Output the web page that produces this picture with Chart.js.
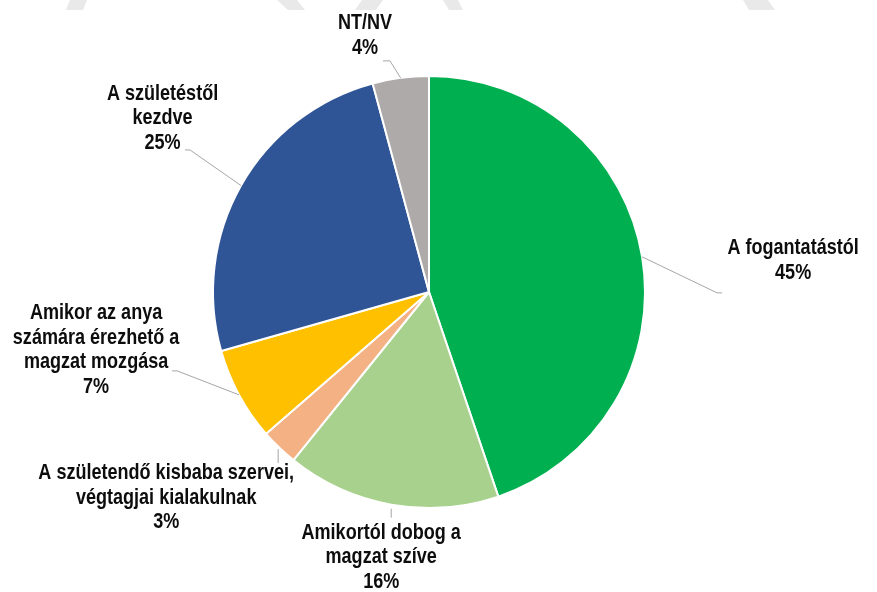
<!DOCTYPE html>
<html>
<head>
<meta charset="utf-8">
<script src="https://cdn.jsdelivr.net/npm/chart.js@4/dist/chart.umd.min.js"></script>
<style>
  html, body { margin: 0; padding: 0; background: #ffffff; }
  #wrap { width: 877px; height: 592px; position: relative; }
</style>
</head>
<body>
<div id="wrap"><canvas id="c" width="877" height="592"></canvas></div>
<script>
// ---- data ----
const categories = [
  ["A fogantatástól"],
  ["Amikortól dobog a", "magzat szíve"],
  ["A születendő kisbaba szervei,", "végtagjai kialakulnak"],
  ["Amikor az anya", "számára érezhető a", "magzat mozgása"],
  ["A születéstől", "kezdve"],
  ["NT/NV"]
];
const values = [44.8, 16.0, 2.8, 7.0, 25.2, 4.2];
const percentLabels = ["45%", "16%", "3%", "7%", "25%", "4%"];
const sliceColors = ["#00B050", "#A9D18E", "#F4B183", "#FFC000", "#2F5597", "#AEAAAA"];

// label placement relative to the slice's outer mid-point (dx, dy)
const labelOffsets = [[151, -8.5], [-10, 28], [-113, 25.5], [-143, -82], [-78.5, -92], [-35.6, -55]];
// leader polyline offsets relative to the slice's outer mid-point
const leaderPaths = [
  [[0, 0], [75, 36], [80, 36]],
  [[0, 4], [0, 13]],
  [[-1, 1.5], [-1, 15.5]],
  [[0, 0], [-62, -24], [-67, -24]],
  [[0, 0], [-51, -35.6], [-56, -35.6]],
  [[0, 0], [-10.6, -17], [-17.6, -17]]
];
const lineHeight = 24.6;

// ---- font handling ----
function hasNarrow() {
  const c = document.createElement('canvas').getContext('2d');
  c.font = 'bold 40px monospace';
  const a = c.measureText('A születendő kisbaba').width;
  c.font = 'bold 40px "Liberation Sans Narrow", monospace';
  const b = c.measureText('A születendő kisbaba').width;
  return Math.abs(a - b) > 0.5;
}
const NARROW = hasNarrow();
const FONT = NARROW ? 'bold 22px "Liberation Sans Narrow"' : 'bold 22px "Liberation Sans", Arial, sans-serif';
const XSCALE = NARROW ? 1 : 0.82;

function drawLabel(ctx, text, x, y) {
  ctx.save();
  ctx.translate(x, y);
  ctx.scale(XSCALE, 1);
  ctx.fillText(text, 0, 0);
  ctx.restore();
}

const watermarkPlugin = {
  id: 'watermark',
  beforeDraw(chart) {
    const ctx = chart.ctx;
    ctx.save();
    ctx.fillStyle = '#ffffff';
    ctx.fillRect(0, 0, chart.width, chart.height);
    ctx.fillStyle = '#E9E9E9';
    const shapes = [
      [[70, 0], [87, 0], [83, 10], [66, 10]],
      [[277, 0], [297, 0], [305, 10], [288, 10]],
      [[362, 0], [383, 0], [376, 10], [355, 10]],
      [[443, 0], [458, 0], [463, 10], [449, 10]],
      [[743, 0], [768, 0], [775, 10], [749, 10]]
    ];
    shapes.forEach(s => {
      ctx.beginPath();
      ctx.moveTo(s[0][0], s[0][1]);
      for (let i = 1; i < s.length; i++) ctx.lineTo(s[i][0], s[i][1]);
      ctx.closePath();
      ctx.fill();
    });
    ctx.restore();
  }
};

const labelPlugin = {
  id: 'pieLabels',
  afterDatasetsDraw(chart) {
    const ctx = chart.ctx;
    const meta = chart.getDatasetMeta(0);
    ctx.save();
    meta.data.forEach((arc, i) => {
      const p = arc.getProps(['x', 'y', 'startAngle', 'endAngle', 'outerRadius'], true);
      const mid = (p.startAngle + p.endAngle) / 2;
      const ax = p.x + Math.cos(mid) * p.outerRadius;
      const ay = p.y + Math.sin(mid) * p.outerRadius;
      // leader
      const path = leaderPaths[i];
      ctx.strokeStyle = '#A6A6A6';
      ctx.lineWidth = 1;
      ctx.beginPath();
      ctx.moveTo(ax + path[0][0], ay + path[0][1]);
      for (let k = 1; k < path.length; k++) ctx.lineTo(ax + path[k][0], ay + path[k][1]);
      ctx.stroke();
      // text
      const lines = categories[i].concat([percentLabels[i]]);
      const lx = ax + labelOffsets[i][0];
      const ly = ay + labelOffsets[i][1];
      ctx.fillStyle = '#0D0D0D';
      ctx.font = FONT;
      ctx.textAlign = 'center';
      ctx.textBaseline = 'middle';
      lines.forEach((t, j) => drawLabel(ctx, t, lx, ly + j * lineHeight));
    });
    ctx.restore();
  }
};

new Chart(document.getElementById('c'), {
  type: 'pie',
  data: {
    labels: categories.map(c => c.join(' ')),
    datasets: [{
      data: values,
      backgroundColor: sliceColors,
      borderColor: '#ffffff',
      borderWidth: 2
    }]
  },
  options: {
    responsive: false,
    animation: false,
    layout: { padding: { left: 212, right: 231, top: 75, bottom: 83 } },
    plugins: {
      legend: { display: false },
      tooltip: { enabled: false }
    }
  },
  plugins: [watermarkPlugin, labelPlugin]
});
</script>
</body>
</html>
